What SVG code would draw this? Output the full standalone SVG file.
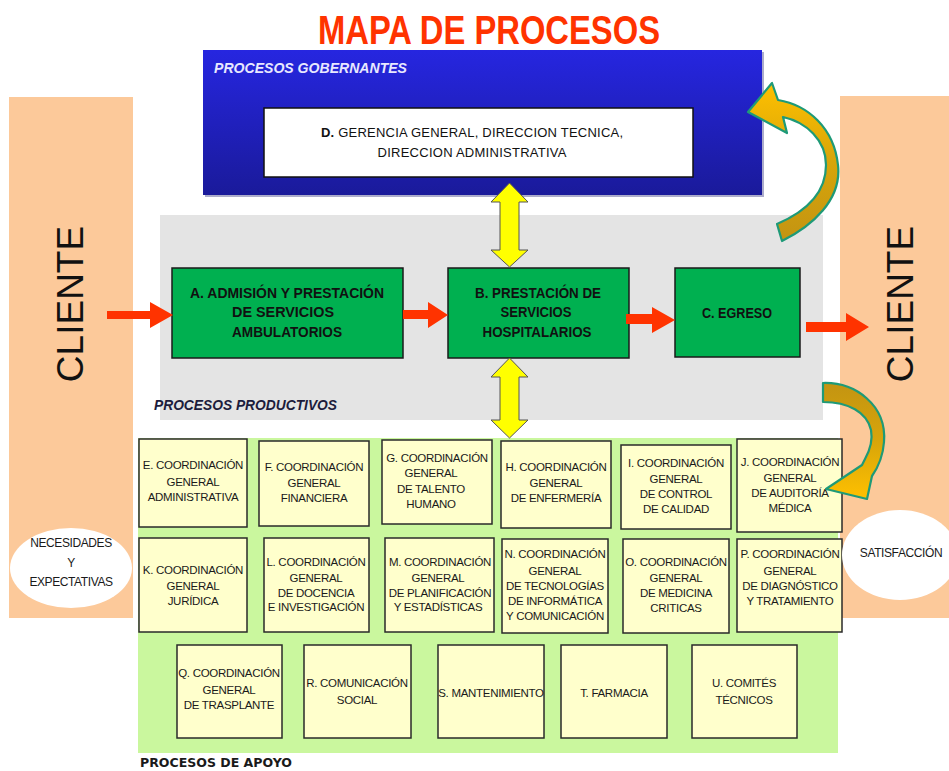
<svg xmlns="http://www.w3.org/2000/svg" width="949" height="771" viewBox="0 0 949 771">
<defs>
<linearGradient id="blueG" x1="0" y1="0" x2="0" y2="1">
<stop offset="0" stop-color="#2626E0"/>
<stop offset="1" stop-color="#1A1A9A"/>
</linearGradient>
<linearGradient id="goldUp" x1="0" y1="1" x2="0" y2="0">
<stop offset="0" stop-color="#C39412"/>
<stop offset="0.5" stop-color="#D7A50A"/>
<stop offset="1" stop-color="#FFC000"/>
</linearGradient>
<linearGradient id="goldDown" x1="0" y1="0" x2="0" y2="1">
<stop offset="0" stop-color="#C39412"/>
<stop offset="0.5" stop-color="#D7A50A"/>
<stop offset="1" stop-color="#FFC000"/>
</linearGradient>
</defs>
<style>
.peach{fill:#FCC99A}
.sup{fill:#FFFFCC;stroke:#2a2a2a;stroke-width:1.5}
.sup-t{font-family:"Liberation Sans",Arial,sans-serif;font-size:11.5px;letter-spacing:-0.3px;fill:#1a1a1a;text-anchor:middle}
.prod{fill:#00B050;stroke:#1a1a1a;stroke-width:1.5}
.prod-t{font-family:"Liberation Sans",Arial,sans-serif;font-size:14px;font-weight:bold;fill:#111;text-anchor:middle}
.red{fill:#FF3300}
.yel{fill:#FFFF00;stroke:#555;stroke-width:1}
.gold{stroke:#1E9A78;stroke-width:2.2;stroke-linejoin:round}
.cli{font-family:"Liberation Sans",Arial,sans-serif;font-size:37px;fill:#111;text-anchor:middle}
.lbl{font-family:"Liberation Sans",Arial,sans-serif;font-size:14px;font-weight:bold;font-style:italic}
.ell-t{font-family:"Liberation Sans",Arial,sans-serif;font-size:12px;letter-spacing:-0.4px;fill:#1a1a1a;text-anchor:middle}
</style>

<!-- background areas -->
<g id="cliente-left">
<rect class="peach" x="9" y="97" width="124" height="521"/>
<text class="cli" transform="translate(83,304) rotate(-90)">CLIENTE</text>
</g>
<g id="cliente-right">
<rect class="peach" x="840" y="96" width="109" height="522"/>
<text class="cli" transform="translate(913,304) rotate(-90)">CLIENTE</text>
</g>
<g id="procesos-productivos">
<rect x="160" y="215" width="663" height="205" fill="#E4E4E4"/>
<text class="lbl" x="154" y="410" fill="#1C1C3C" textLength="183" lengthAdjust="spacingAndGlyphs">PROCESOS PRODUCTIVOS</text>
</g>
<g id="procesos-apoyo">
<rect x="138" y="438" width="700" height="315" fill="#CAF79E"/>
<text x="140" y="767" font-family="'DejaVu Sans',sans-serif" font-size="13" font-weight="bold" fill="#1a1a1a" textLength="152" lengthAdjust="spacingAndGlyphs">PROCESOS DE APOYO</text>
</g>

<g id="title">
<text x="489" y="44" font-family="'Liberation Sans',Arial,sans-serif" font-size="40" font-weight="bold" fill="#FF3300" text-anchor="middle" textLength="342" lengthAdjust="spacingAndGlyphs">MAPA DE PROCESOS</text>
</g>

<g id="procesos-gobernantes">
<rect x="205" y="52" width="559" height="145" fill="#10106a" opacity="0.35"/>
<rect x="203" y="50" width="559" height="145" fill="url(#blueG)"/>
<text class="lbl" x="214" y="73" fill="#E8E8FF" textLength="193" lengthAdjust="spacingAndGlyphs">PROCESOS GOBERNANTES</text>
</g>
<g id="D">
<rect x="264" y="108" width="429" height="69" fill="#FFFFFF" stroke="#111" stroke-width="1.5"/>
<text x="472" y="137" font-family="'Liberation Sans',Arial,sans-serif" font-size="13" fill="#111" text-anchor="middle" textLength="302" lengthAdjust="spacing"><tspan font-weight="bold">D.</tspan> GERENCIA  GENERAL,  DIRECCION  TECNICA,</text>
<text x="472" y="157" font-family="'Liberation Sans',Arial,sans-serif" font-size="13" fill="#111" text-anchor="middle" textLength="189" lengthAdjust="spacing">DIRECCION  ADMINISTRATIVA</text>
</g>

<g id="A">
<rect class="prod" x="172" y="268" width="231" height="90"/>
<text class="prod-t" x="287" y="298" textLength="194" lengthAdjust="spacingAndGlyphs">A.  ADMISIÓN Y PRESTACIÓN</text>
<text class="prod-t" x="283" y="317" textLength="102" lengthAdjust="spacingAndGlyphs">DE  SERVICIOS</text>
<text class="prod-t" x="287" y="337" textLength="110" lengthAdjust="spacingAndGlyphs">AMBULATORIOS</text>
</g>
<g id="B">
<rect class="prod" x="448" y="268" width="181" height="90"/>
<text class="prod-t" x="538" y="298" textLength="126" lengthAdjust="spacingAndGlyphs">B. PRESTACIÓN  DE</text>
<text class="prod-t" x="536" y="317" textLength="71" lengthAdjust="spacingAndGlyphs">SERVICIOS</text>
<text class="prod-t" x="537" y="337" textLength="109" lengthAdjust="spacingAndGlyphs">HOSPITALARIOS</text>
</g>
<g id="C">
<rect class="prod" x="675" y="268" width="125" height="89"/>
<text class="prod-t" x="737" y="318" textLength="70" lengthAdjust="spacingAndGlyphs">C. EGRESO</text>
</g>

<g id="E"><rect class="sup" x="139" y="439" width="108" height="88"/>
<text class="sup-t" x="193" y="469">E. COORDINACIÓN</text><text class="sup-t" x="193" y="486">GENERAL</text><text class="sup-t" x="193" y="501">ADMINISTRATIVA</text></g>
<g id="F"><rect class="sup" x="259" y="441" width="110" height="85"/>
<text class="sup-t" x="314" y="471">F. COORDINACIÓN</text><text class="sup-t" x="314" y="487">GENERAL</text><text class="sup-t" x="314" y="502">FINANCIERA</text></g>
<g id="G"><rect class="sup" x="382" y="440" width="110" height="84"/>
<text class="sup-t" x="437" y="462">G. COORDINACIÓN</text><text class="sup-t" x="431" y="477">GENERAL</text><text class="sup-t" x="431" y="493">DE TALENTO</text><text class="sup-t" x="431" y="508">HUMANO</text></g>
<g id="H"><rect class="sup" x="501" y="441" width="110" height="87"/>
<text class="sup-t" x="556" y="471">H. COORDINACIÓN</text><text class="sup-t" x="556" y="487">GENERAL</text><text class="sup-t" x="556" y="502">DE ENFERMERÍA</text></g>
<g id="I"><rect class="sup" x="621" y="445" width="110" height="84"/>
<text class="sup-t" x="676" y="467">I. COORDINACIÓN</text><text class="sup-t" x="676" y="483">GENERAL</text><text class="sup-t" x="676" y="498">DE CONTROL</text><text class="sup-t" x="676" y="513">DE CALIDAD</text></g>
<g id="J"><rect class="sup" x="737" y="439" width="105" height="93"/>
<text class="sup-t" x="790" y="466">J. COORDINACIÓN</text><text class="sup-t" x="790" y="482">GENERAL</text><text class="sup-t" x="790" y="497">DE AUDITORÍA</text><text class="sup-t" x="790" y="512">MÉDICA</text></g>

<g id="K"><rect class="sup" x="139" y="538" width="108" height="94"/>
<text class="sup-t" x="193" y="574">K. COORDINACIÓN</text><text class="sup-t" x="193" y="590">GENERAL</text><text class="sup-t" x="193" y="605">JURÍDICA</text></g>
<g id="L"><rect class="sup" x="264" y="538" width="105" height="94"/>
<text class="sup-t" x="316" y="566">L. COORDINACIÓN</text><text class="sup-t" x="316" y="582">GENERAL</text><text class="sup-t" x="316" y="597">DE DOCENCIA</text><text class="sup-t" x="316" y="611">E INVESTIGACIÓN</text></g>
<g id="M"><rect class="sup" x="385" y="538" width="109" height="94"/>
<text class="sup-t" x="440" y="566">M. COORDINACIÓN</text><text class="sup-t" x="438" y="582">GENERAL</text><text class="sup-t" x="440" y="597">DE PLANIFICACIÓN</text><text class="sup-t" x="438" y="611">Y ESTADÍSTICAS</text></g>
<g id="N"><rect class="sup" x="502" y="539" width="106" height="94"/>
<text class="sup-t" x="555" y="558">N. COORDINACIÓN</text><text class="sup-t" x="555" y="575">GENERAL</text><text class="sup-t" x="555" y="590">DE TECNOLOGÍAS</text><text class="sup-t" x="555" y="605">DE INFORMÁTICA</text><text class="sup-t" x="555" y="620">Y COMUNICACIÓN</text></g>
<g id="O"><rect class="sup" x="623" y="539" width="106" height="94"/>
<text class="sup-t" x="676" y="566">O. COORDINACIÓN</text><text class="sup-t" x="676" y="582">GENERAL</text><text class="sup-t" x="676" y="597">DE MEDICINA</text><text class="sup-t" x="676" y="612">CRITICAS</text></g>
<g id="P"><rect class="sup" x="737" y="539" width="105" height="93"/>
<text class="sup-t" x="790" y="558">P. COORDINACIÓN</text><text class="sup-t" x="790" y="575">GENERAL</text><text class="sup-t" x="790" y="590">DE DIAGNÓSTICO</text><text class="sup-t" x="790" y="605">Y TRATAMIENTO</text></g>

<g id="Q"><rect class="sup" x="177" y="645" width="105" height="93"/>
<text class="sup-t" x="229" y="677">Q. COORDINACIÓN</text><text class="sup-t" x="229" y="694">GENERAL</text><text class="sup-t" x="229" y="709">DE TRASPLANTE</text></g>
<g id="R"><rect class="sup" x="304" y="645" width="107" height="93"/>
<text class="sup-t" x="357" y="687">R. COMUNICACIÓN</text><text class="sup-t" x="357" y="704">SOCIAL</text></g>
<g id="S"><rect class="sup" x="438" y="645" width="106" height="93"/>
<text class="sup-t" x="491" y="697">S. MANTENIMIENTO</text></g>
<g id="T"><rect class="sup" x="561" y="645" width="106" height="93"/>
<text class="sup-t" x="614" y="697">T.  FARMACIA</text></g>
<g id="U"><rect class="sup" x="692" y="645" width="105" height="93"/>
<text class="sup-t" x="744" y="687">U. COMITÉS</text><text class="sup-t" x="744" y="704">TÉCNICOS</text></g>

<g id="necesidades">
<ellipse cx="71" cy="568" rx="61" ry="40" fill="#FFFFFF"/>
<text class="ell-t" x="71" y="547">NECESIDADES</text>
<text class="ell-t" x="71" y="567">Y</text>
<text class="ell-t" x="71" y="586">EXPECTATIVAS</text>
</g>
<g id="satisfaccion">
<ellipse cx="900" cy="555" rx="58" ry="45" fill="#FFFFFF"/>
<text class="ell-t" x="901" y="557" font-size="12.5">SATISFACCIÓN</text>
</g>

<g id="connectors">
<path class="red" d="M107,311 L150,311 L150,302 L173,315 L150,328 L150,319 L107,319 Z"/>
<path class="red" d="M403,310 L428,310 L428,302 L448,315 L428,328 L428,319 L403,319 Z"/>
<path class="red" d="M626,314 L652,314 L652,307 L675,320 L652,333 L652,324 L626,324 Z"/>
<path class="red" d="M806,322 L846,322 L846,313 L869,327 L846,341 L846,332 L806,332 Z"/>
<path class="yel" d="M509.5,183 L528,202 L519,202 L519,250 L528,250 L509.5,267 L491,250 L500,250 L500,202 L491,202 Z"/>
<path class="yel" d="M509.5,358 L528,377 L519,377 L519,420 L528,420 L509.5,438 L491,420 L500,420 L500,377 L491,377 Z"/>
<path class="gold" fill="url(#goldUp)" d="M782,241 C812,226 842,200 838,165 C834,128 808,105 778,100 L772,83 L748,112 L787,133 L783,117 C806,122 826,140 826,165 C826,193 805,212 777,224 Z"/>
<path class="gold" fill="url(#goldDown)" d="M823,383 C855,382 887,405 884,442 C883,456 879,466 872,476 L867,499 L826,489 L862,465 L865,459 C870,450 873,441 871,430 C867,412 848,402 823,402 Z"/>
</g>
</svg>
